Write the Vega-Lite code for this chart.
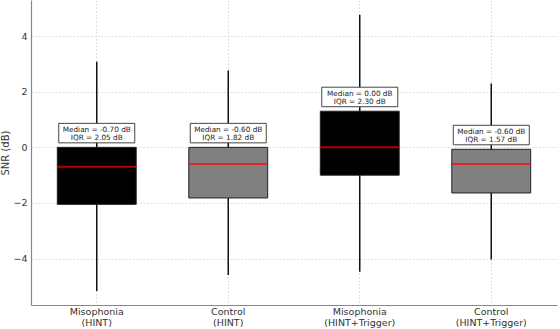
{
  "$schema": "https://vega.github.io/schema/vega-lite/v6.json",
  "width": 526,
  "height": 305,
  "autosize": {"type": "none"},
  "padding": {"left": 31, "top": 0, "right": 3, "bottom": 24},
  "background": "white",
  "config": {
    "font": "DejaVu Sans",
    "view": {"stroke": null},
    "axis": {
      "labelFont": "DejaVu Sans",
      "titleFont": "DejaVu Sans",
      "labelFontSize": 9.5,
      "titleFontSize": 10,
      "labelColor": "#333333",
      "titleColor": "#333333",
      "titleFontWeight": "normal",
      "domainColor": "#888888",
      "domainWidth": 1.2,
      "ticks": false,
      "gridColor": "#cccccc",
      "gridDash": [1.5, 2],
      "gridWidth": 0.8,
      "zindex": 1
    }
  },
  "data": {
    "values": [
      {"condition": "Misophonia (HINT)", "group": "Misophonia", "min": -5.17, "q1": -2.05, "median": -0.70, "q3": 0.0, "max": 3.08},
      {"condition": "Control (HINT)", "group": "Control", "min": -4.59, "q1": -1.82, "median": -0.60, "q3": 0.0, "max": 2.76},
      {"condition": "Misophonia (HINT+Trigger)", "group": "Misophonia", "min": -4.47, "q1": -1.0, "median": 0.0, "q3": 1.3, "max": 4.77},
      {"condition": "Control (HINT+Trigger)", "group": "Control", "min": -4.03, "q1": -1.64, "median": -0.60, "q3": -0.07, "max": 2.30}
    ]
  },
  "transform": [
    {"calculate": "[replace('Median = ' + format(datum.median, '.2f') + ' dB', '\u2212', '-'), replace('IQR = ' + format(datum.q3 - datum.q1, '.2f') + ' dB', '\u2212', '-')]", "as": "stats"}
  ],
  "encoding": {
    "x": {
      "field": "condition",
      "type": "nominal",
      "sort": null,
      "scale": {"paddingInner": 0.4, "paddingOuter": 0.2},
      "axis": {
        "title": null,
        "labelAngle": 0,
        "labelPadding": 1.5,
        "labelLineHeight": 11.4,
        "labelExpr": "split(datum.label, ' ')",
        "grid": true,
        "domain": true
      }
    }
  },
  "layer": [
    {
      "mark": {"type": "rule", "color": "#111111", "strokeWidth": 1.5},
      "encoding": {
        "y": {
          "field": "min",
          "type": "quantitative",
          "scale": {"domain": [-5.67, 5.3], "nice": false, "zero": false},
          "axis": {
            "title": "SNR (dB)",
            "titlePadding": 2,
            "values": [-4, -2, 0, 2, 4],
            "format": "d",
            "labelPadding": 4,
            "labelExpr": "replace(datum.label, '-', '\u2212')",
            "grid": true
          }
        },
        "y2": {"field": "max"}
      }
    },
    {
      "mark": {"type": "bar", "stroke": "#222222", "strokeWidth": 1},
      "encoding": {
        "y": {"field": "q1", "type": "quantitative"},
        "y2": {"field": "q3"},
        "color": {
          "field": "group",
          "type": "nominal",
          "scale": {"domain": ["Misophonia", "Control"], "range": ["#000000", "#808080"]},
          "legend": null
        }
      }
    },
    {
      "mark": {"type": "tick", "color": "#ff0000", "thickness": 2, "size": 79, "orient": "horizontal"},
      "encoding": {
        "y": {"field": "median", "type": "quantitative"}
      }
    },
    {
      "mark": {"type": "bar", "fill": "white", "stroke": "#444444", "strokeWidth": 1, "width": 76, "yOffset": -24, "y2Offset": -4.5},
      "encoding": {
        "y": {"field": "q3", "type": "quantitative"},
        "y2": {"field": "q3"}
      }
    },
    {
      "mark": {"type": "text", "fontSize": 7.3, "lineHeight": 8, "color": "#222222", "baseline": "middle", "yOffset": -17.5},
      "encoding": {
        "y": {"field": "q3", "type": "quantitative"},
        "text": {"field": "stats"}
      }
    }
  ]
}
